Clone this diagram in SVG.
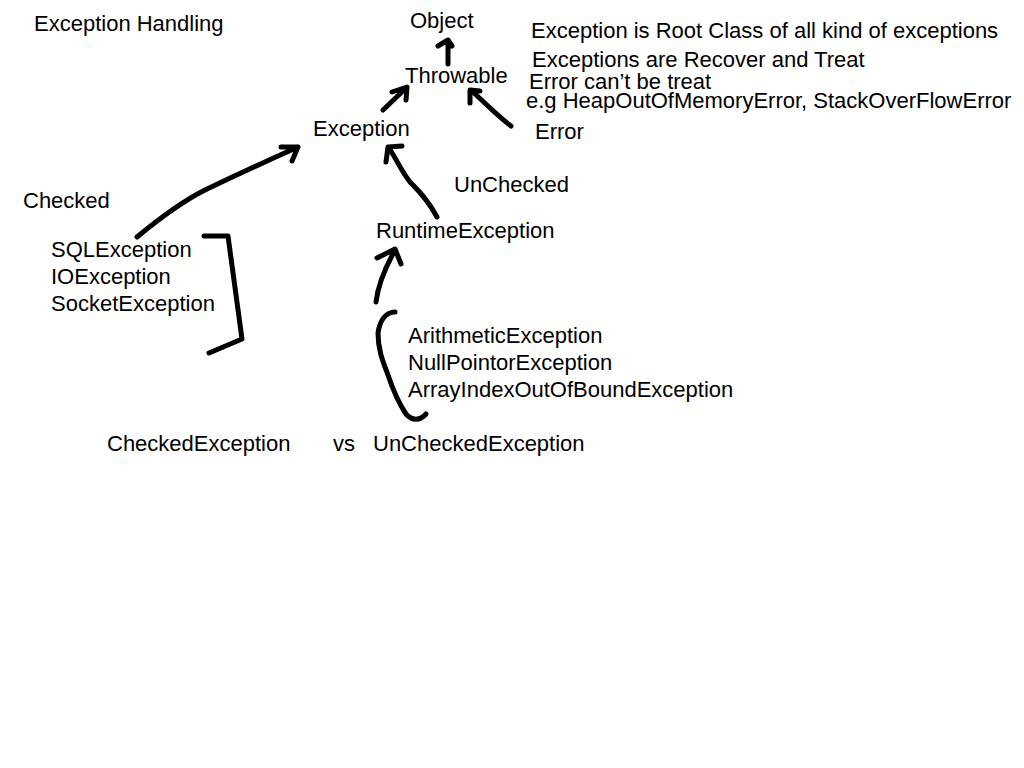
<svg xmlns="http://www.w3.org/2000/svg" width="1024" height="768" viewBox="0 0 1024 768">
<style>
text { font-family: "Liberation Sans", Arial, Helvetica, sans-serif; font-size: 22px; fill: #000; }
.ink { fill: none; stroke: #000; stroke-width: 5; stroke-linecap: round; stroke-linejoin: round; }
</style>
<rect width="1024" height="768" fill="#fff"/>
<g id="title"><text x="34" y="31">Exception Handling</text></g>
<g id="node-object"><text x="410" y="28">Object</text></g>
<g id="node-throwable"><text x="405" y="83">Throwable</text></g>
<g id="node-exception"><text x="313" y="136">Exception</text></g>
<g id="node-error"><text x="535" y="139">Error</text></g>
<g id="notes">
<text x="531" y="38">Exception is Root Class of all kind of exceptions</text>
<text x="532" y="67">Exceptions are Recover and Treat</text>
<text x="529" y="89">Error can’t be treat</text>
<text x="526" y="108">e.g HeapOutOfMemoryError, StackOverFlowError</text>
</g>
<g id="label-checked"><text x="23" y="208">Checked</text></g>
<g id="label-unchecked"><text x="454" y="192">UnChecked</text></g>
<g id="node-runtime"><text x="376" y="238">RuntimeException</text></g>
<g id="node-checked-list">
<text x="51" y="257">SQLException</text>
<text x="51" y="284">IOException</text>
<text x="51" y="311">SocketException</text>
</g>
<g id="node-unchecked-list">
<text x="408" y="343">ArithmeticException</text>
<text x="408" y="370">NullPointorException</text>
<text x="408" y="397">ArrayIndexOutOfBoundException</text>
</g>
<g id="footer">
<text x="107" y="451">CheckedException</text>
<text x="333" y="451">vs</text>
<text x="373" y="451">UnCheckedException</text>
</g>
<g id="connectors">
<path class="ink" d="M448,64 L448,41 M438,46 L448,40 L452,46"/>
<path class="ink" d="M383,110 L405,89 M392,92 L407,87 L406,100"/>
<path class="ink" d="M511,126 C500,118 490,108 472,91 M470,103 L470,90 L480,91"/>
<path class="ink" d="M137,237 C160,218 185,200 205,190 C230,178 260,164 298,147 M281,147 L298,147 L292,161"/>
<path class="ink" d="M437,217 C428,200 418,190 410,182 C402,172 398,162 389,148 M386,162 L388,147 L402,146"/>
<path class="ink" d="M204,236 L228,236 L242,339 L209,353"/>
<path class="ink" d="M376,302 C378,285 385,268 395,250 M377,258 L395,249 L401,264"/>
<path class="ink" d="M395,312 C386,312 380,320 378,333 C378,350 383,362 388,375 C393,390 398,402 406,414 C412,421 420,421 426,414"/>
</g>
</svg>
